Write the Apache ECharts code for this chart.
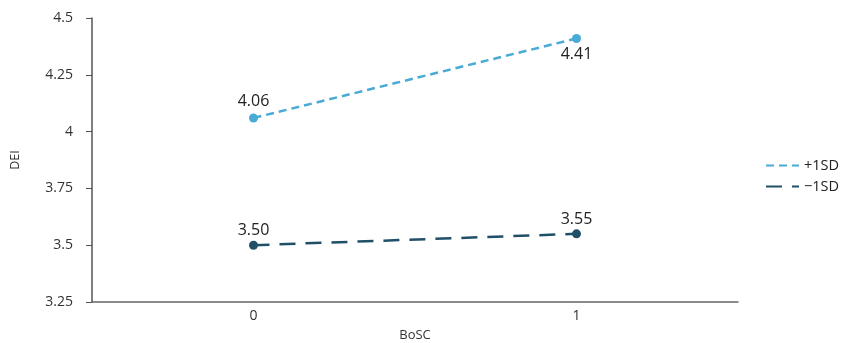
<!DOCTYPE html>
<html>
<head>
<meta charset="utf-8">
<script src="https://cdn.jsdelivr.net/npm/echarts@6/dist/echarts.min.js"></script>
<style>html,body{margin:0;padding:0;background:#fff}#c{width:844px;height:343px}</style>
</head>
<body>
<div id="c"></div>
<script>
const categories = ['0', '1'];
const plusSD = [4.06, 4.41];
const minusSD = [3.50, 3.55];
const seriesNames = ['+1SD', '\u22121SD'];
const yTicks = [3.25, 3.5, 3.75, 4, 4.25, 4.5];

const chart = echarts.init(document.getElementById('c'));
const font = 'Open Sans, Noto Sans, sans-serif';
chart.setOption({
  animation: false,
  textStyle: { fontFamily: font },
  grid: { left: 92, right: 106, top: 18, bottom: 41, containLabel: false, outerBoundsMode: 'none' },
  legend: {
    data: seriesNames,
    orient: 'vertical',
    left: 760,
    top: 153,
    itemWidth: 33,
    itemHeight: 10,
    itemGap: 6,
    textStyle: { fontSize: 14.5, color: '#222', fontFamily: font },
    itemStyle: { opacity: 0 }
  },
  xAxis: {
    type: 'category',
    data: categories,
    boundaryGap: true,
    name: 'BoSC',
    nameLocation: 'middle',
    nameGap: 27,
    nameTextStyle: { fontSize: 13, color: '#333' },
    axisLine: { lineStyle: { color: '#666', width: 1.5 } },
    axisTick: { alignWithLabel: true, length: 3, lineStyle: { color: '#555' } },
    axisLabel: { fontSize: 14, color: '#333', margin: 7 }
  },
  yAxis: {
    type: 'value',
    min: 3.25,
    max: 4.5,
    interval: 0.25,
    name: 'DEI',
    nameLocation: 'middle',
    nameGap: 70,
    nameTextStyle: { fontSize: 12.5, color: '#333' },
    splitLine: { show: false },
    axisLine: { show: true, lineStyle: { color: '#555', width: 1.5 } },
    axisTick: { show: true, length: 6, lineStyle: { color: '#555' } },
    axisLabel: {
      fontSize: 14, color: '#333', margin: 19,
      formatter: v => { const t = yTicks.find(x => Math.abs(x - v) < 1e-9); return t === undefined ? '' : String(t); }
    }
  },
  series: [
    {
      name: seriesNames[0],
      type: 'line',
      symbol: 'circle',
      symbolSize: 9,
      color: '#4aaad6',
      lineStyle: { color: '#4aaad6', width: 2.5, type: [8, 5] },
      label: {
        show: true, fontSize: 16, color: '#222',
        formatter: p => p.value.toFixed(2),
        position: 'top', distance: 4
      },
      data: plusSD.map((v, i) => i === 1 ? { value: v, label: { position: 'bottom', distance: 3 } } : v)
    },
    {
      name: seriesNames[1],
      type: 'line',
      data: minusSD,
      symbol: 'circle',
      symbolSize: 9,
      color: '#1f5068',
      lineStyle: { color: '#1f5068', width: 2.5, type: [16, 10] },
      label: {
        show: true, fontSize: 16, color: '#222',
        formatter: p => p.value.toFixed(2),
        position: 'top', distance: 2
      }
    }
  ]
});
</script>
</body>
</html>
